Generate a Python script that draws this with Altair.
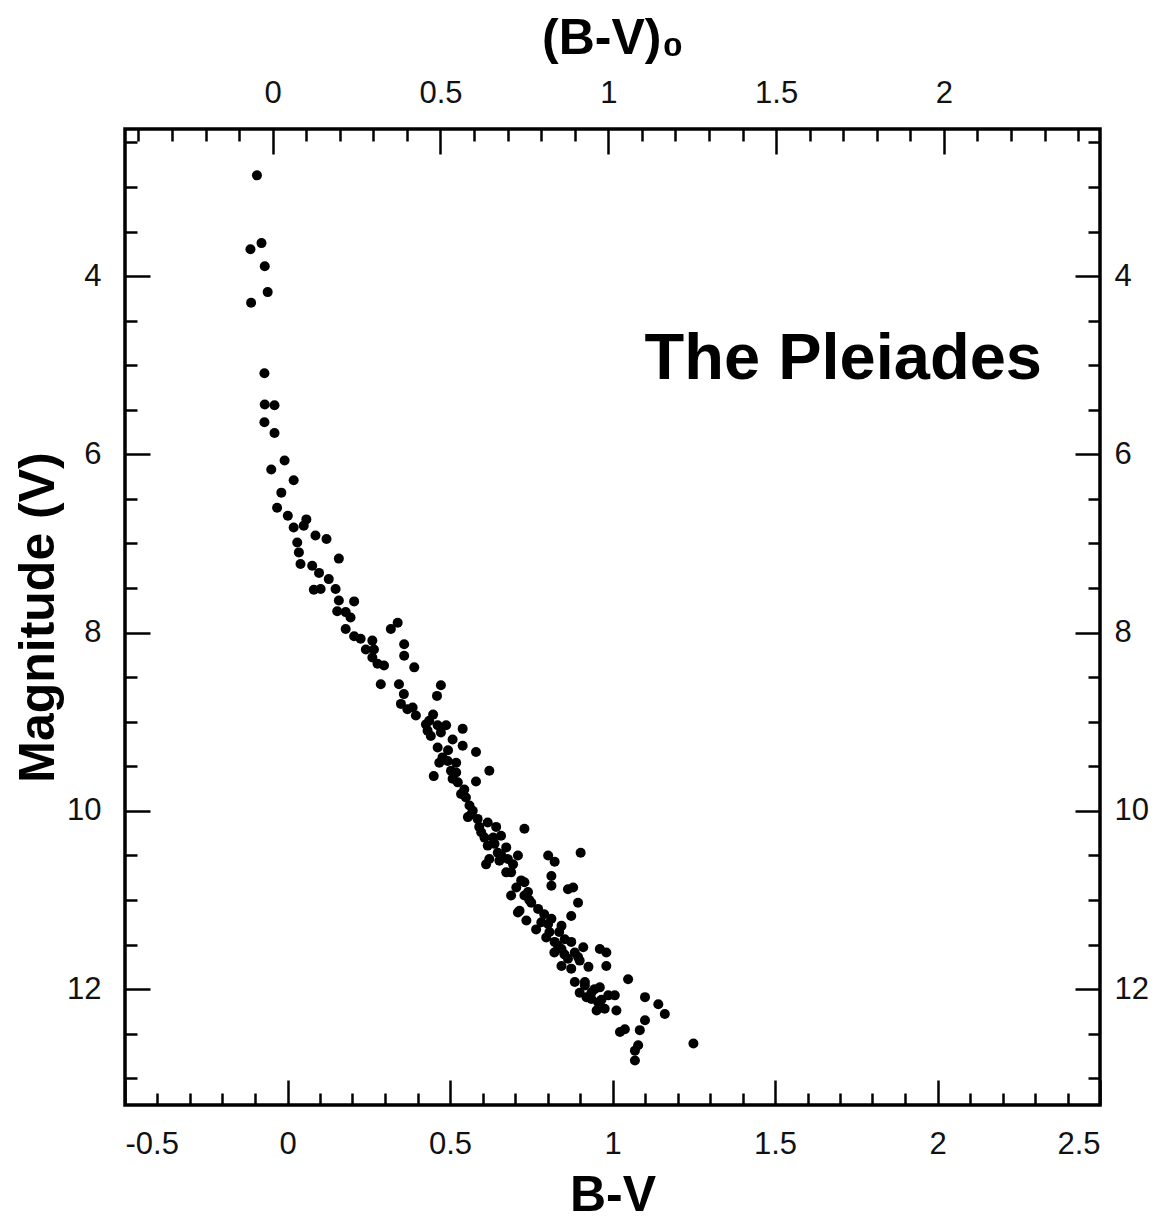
import altair as alt
import pandas as pd

# ---- data: B-V colour and V magnitude ----
bv = [-0.094, -0.080, -0.114, -0.070, -0.061, -0.112, -0.071, -0.070, -0.040, -0.071, -0.040, -0.009,
      -0.050, 0.019, -0.019, -0.032, 0.001, 0.058,
      0.019, 0.050, 0.086, 0.120, 0.030, 0.035, 0.158, 0.040, 0.076, 0.097, 0.127, 0.081, 0.102, 0.148,
      0.158, 0.205, 0.153, 0.179, 0.194, 0.339, 0.318, 0.179, 0.205, 0.225, 0.261, 0.359, 0.241, 0.266,
      0.359, 0.261, 0.277, 0.297, 0.390, 0.287, 0.343, 0.358, 0.472, 0.460,
      0.349, 0.369, 0.395, 0.385, 0.436, 0.431, 0.462, 0.488, 0.539, 0.441, 0.472, 0.508, 0.539, 0.462,
      0.580, 0.477, 0.467, 0.493, 0.519, 0.621, 0.503, 0.450, 0.508, 0.580, 0.524, 0.544, 0.549, 0.560,
      0.570, 0.555, 0.585, 0.616, 0.729, 0.596, 0.606, 0.657, 0.637, 0.616, 0.673, 0.647, 0.709, 0.621,
      0.678,
      0.802, 0.822, 0.902, 0.611, 0.652, 0.688, 0.719, 0.812, 0.812, 0.863, 0.879, 0.894, 0.688, 0.729,
      0.750, 0.709, 0.771, 0.873, 0.781, 0.812, 0.765, 0.806, 0.843, 0.822, 0.873, 0.843, 0.884, 0.961,
      0.981, 0.863, 0.899, 0.843, 0.981, 0.873, 1.048, 0.884, 0.915, 0.899, 0.935, 0.961, 1.007, 1.100,
      0.729, 0.740, 0.714, 0.802, 0.853, 0.832,
      0.945, 0.935, 0.956, 0.951, 0.976, 1.012, 1.141, 1.161, 1.100, 1.084, 1.038, 1.023, 1.079, 1.069,
      1.069, 1.249,
      0.821, 0.894, 0.915, 0.987,
      0.426, 0.448, 0.494, 0.519, 0.534, 0.565, 0.590, 0.633, 0.657, 0.694, 0.704, 0.744, 0.735, 0.790,
      0.796, 0.836, 0.852, 0.910, 0.926, 0.920, 0.966, 0.673, 0.642]

vmag = [2.87, 3.63, 3.70, 3.89, 4.18, 4.30, 5.09, 5.44, 5.45, 5.64, 5.76, 6.07,
        6.17, 6.29, 6.43, 6.60, 6.69, 6.73,
        6.82, 6.80, 6.91, 6.95, 6.99, 7.10, 7.17, 7.23, 7.25, 7.33, 7.40, 7.52, 7.51, 7.51,
        7.64, 7.65, 7.76, 7.77, 7.83, 7.89, 7.96, 7.96, 8.04, 8.07, 8.09, 8.13, 8.19, 8.19,
        8.26, 8.28, 8.35, 8.37, 8.39, 8.58, 8.58, 8.69, 8.59, 8.71,
        8.80, 8.86, 8.93, 8.84, 8.99, 9.10, 9.04, 9.04, 9.08, 9.16, 9.12, 9.20, 9.27, 9.29,
        9.34, 9.40, 9.46, 9.44, 9.46, 9.55, 9.55, 9.61, 9.64, 9.67, 9.68, 9.76, 9.85, 9.94,
        10.00, 10.07, 10.09, 10.13, 10.20, 10.24, 10.30, 10.28, 10.37, 10.39, 10.41, 10.47, 10.50, 10.54,
        10.54,
        10.50, 10.57, 10.47, 10.60, 10.56, 10.69, 10.78, 10.73, 10.84, 10.88, 10.86, 11.03, 10.95, 10.95,
        11.03, 11.14, 11.10, 11.18, 11.25, 11.21, 11.33, 11.36, 11.29, 11.47, 11.47, 11.55, 11.59, 11.55,
        11.59, 11.66, 11.68, 11.74, 11.74, 11.77, 11.89, 11.92, 11.92, 12.04, 12.04, 11.98, 12.07, 12.09,
        10.80, 10.91, 11.12, 11.27, 11.44, 11.51,
        12.00, 12.11, 12.15, 12.24, 12.22, 12.24, 12.17, 12.28, 12.35, 12.46, 12.45, 12.48, 12.63, 12.69,
        12.80, 12.61,
        11.59, 11.64, 11.96, 12.07,
        9.03, 8.92, 9.32, 9.57, 9.81, 10.04, 10.18, 10.30, 10.49, 10.60, 10.86, 11.00, 11.23, 11.16,
        11.42, 11.36, 11.61, 11.53, 11.75, 12.09, 12.12, 10.69, 10.18]

# ---- axis ticks ----
bv_major = [-0.5, 0, 0.5, 1, 1.5, 2, 2.5]
bv0_major = [0, 0.5, 1, 1.5, 2]
x_minor = [-0.4, -0.3, -0.2, -0.1, 0.1, 0.2, 0.3, 0.4, 0.6, 0.7, 0.8, 0.9,
           1.1, 1.2, 1.3, 1.4, 1.6, 1.7, 1.8, 1.9, 2.1, 2.2, 2.3, 2.4]
y_major = [4, 6, 8, 10, 12]
y_minor = [2.5, 3, 3.5, 4.5, 5, 5.5, 6.5, 7, 7.5, 8.5, 9, 9.5, 10.5, 11, 11.5, 12.5, 13]

label_text = ["The Pleiades"]
label_x = [1.71]
label_y = [4.93]

W, H = 975, 976
X_DOMAIN = [-0.5, 2.5]
X0_DOMAIN = [-0.44, 2.465]
Y_DOMAIN = [2.35, 13.3]
FONT = "Liberation Sans"
MAJ, MIN = 25, 12
LABEL_SIZE = 31

df = pd.DataFrame({"bv": bv, "v": vmag})
txt = pd.DataFrame({"x": label_x, "y": label_y, "t": label_text})


def xs(domain):
    return alt.Scale(domain=domain, nice=False, zero=False)


ys = alt.Scale(domain=Y_DOMAIN, nice=False, zero=False, reverse=True)


def label_axis(orient, values, title=None, **kw):
    args = dict(orient=orient, values=values, ticks=False, tickSize=0, domain=False, grid=False,
                labelFont=FONT, labelFontSize=LABEL_SIZE, labelColor="#111111",
                labelExpr="datum.value + ''",
                titleFont=FONT, titleFontSize=50, titleFontWeight="bold", titleColor="black")
    args.update(kw)
    args["title"] = title
    return alt.Axis(**args)


def tick_axis(orient, values, size, offset):
    return alt.Axis(orient=orient, values=values, tickSize=size, tickWidth=2.5, tickColor="black",
                    labels=False, domain=False, grid=False, title=None, offset=offset)


def layer(xdom, xaxis, yaxis, visible=False):
    base = alt.Chart(df)
    if visible:
        m = base.mark_circle(size=100, color="black", opacity=1)
    else:
        m = base.mark_point(opacity=0)
    return m.encode(
        x=alt.X("bv:Q", scale=xs(xdom), axis=xaxis),
        y=alt.Y("v:Q", scale=ys, axis=yaxis),
    )


points = layer(
    X_DOMAIN,
    label_axis("bottom", bv_major, "B-V", labelPadding=24, titlePadding=11),
    label_axis("left", y_major, "Magnitude (V)", labelPadding=24, titlePadding=3),
    visible=True,
)
bot_major = layer(X_DOMAIN, tick_axis("top", bv_major, MAJ, -H), tick_axis("right", y_major, MAJ, -W))
bot_minor = layer(X_DOMAIN, tick_axis("top", x_minor, MIN, -H), tick_axis("right", y_minor, MIN, -W))
top_labels = layer(
    X0_DOMAIN,
    label_axis("top", bv0_major, "(B-V)\u2080", labelPadding=20, titlePadding=14),
    label_axis("right", y_major, None, labelPadding=14),
)
top_major = layer(X0_DOMAIN, tick_axis("bottom", bv0_major, MAJ, -H), tick_axis("left", y_major, MAJ, -W))
top_minor = layer(X0_DOMAIN, tick_axis("bottom", x_minor, MIN, -H), tick_axis("left", y_minor, MIN, -W))

title_text = alt.Chart(txt).mark_text(
    font=FONT, fontSize=65, fontWeight="bold", color="black", align="center", baseline="middle"
).encode(
    x=alt.X("x:Q", scale=xs(X_DOMAIN), axis=None),
    y=alt.Y("y:Q", scale=ys, axis=None),
    text="t:N",
)

chart = alt.layer(points, bot_major, bot_minor, top_labels, top_major, top_minor, title_text).resolve_scale(
    x="independent"
).resolve_axis(x="independent", y="independent").properties(
    width=W, height=H, background="white"
).configure_view(stroke="black", strokeWidth=3.5)

chart.save("out.html", embed_options={"renderer": "svg", "actions": False})
